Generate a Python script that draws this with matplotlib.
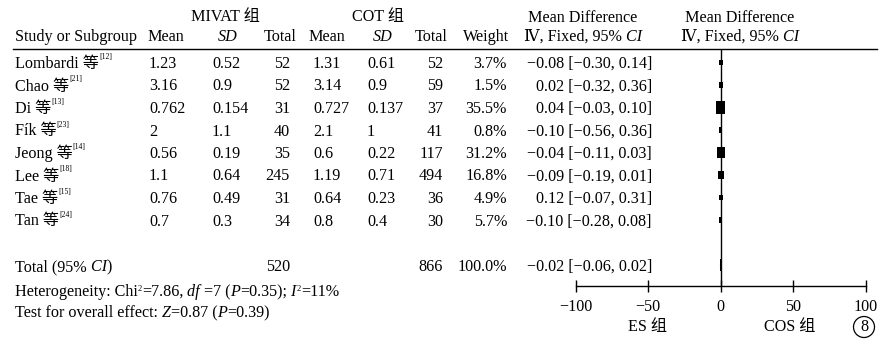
import numpy as np
import matplotlib
matplotlib.use("Agg")
import matplotlib.pyplot as plt
from matplotlib.patches import Ellipse

plt.rcParams['font.family'] = ['Liberation Serif', 'DejaVu Serif', 'Noto Sans CJK SC']
plt.rcParams['font.size'] = 11.6

# data
studies = ['Lombardi', 'Chao', 'Di', 'Fík', 'Jeong', 'Lee', 'Tae', 'Tan']
refs = ['12', '21', '13', '23', '14', '18', '15', '24']
mivat_mean = [1.23, 3.16, 0.762, 2, 0.56, 1.1, 0.76, 0.7]
mivat_sd = [0.52, 0.9, 0.154, 1.1, 0.19, 0.64, 0.49, 0.3]
mivat_n = [52, 52, 31, 40, 35, 245, 31, 34]
cot_mean = [1.31, 3.14, 0.727, 2.1, 0.6, 1.19, 0.64, 0.8]
cot_sd = [0.61, 0.9, 0.137, 1, 0.22, 0.71, 0.23, 0.4]
cot_n = [52, 59, 37, 41, 117, 494, 36, 30]
weight = [3.7, 1.5, 35.5, 0.8, 31.2, 16.8, 4.9, 5.7]
md = [-0.08, 0.02, 0.04, -0.10, -0.04, -0.09, 0.12, -0.10]
ci_lo = [-0.30, -0.32, -0.03, -0.56, -0.11, -0.19, -0.07, -0.28]
ci_hi = [0.14, 0.36, 0.10, 0.36, 0.03, 0.01, 0.31, 0.08]
total_mivat = 520
total_cot = 866
total_weight = 100.0
pooled_md, pooled_lo, pooled_hi = -0.02, -0.06, 0.02
xticks = [-100, -50, 0, 50, 100]

W, H = 892, 346
fig = plt.figure(figsize=(W / 100, H / 100), dpi=100)
lay = fig.add_axes([0, 0, 1, 1])
lay.set_xlim(0, W)
lay.set_ylim(H, 0)
lay.axis('off')
renderer = fig.canvas.get_renderer()


def row_y(r):
    return 62.5 + 22.5 * r


def put(pieces, x, y, ha='left'):
    # pieces: (text, kwargs) drawn one after another on the same baseline
    arts = []
    cx = x
    for s, kw in pieces:
        kw = dict(kw)
        rise = kw.pop('rise', 0)
        t = lay.text(cx, y - rise, s, ha='left', va='baseline', **kw)
        cx += t.get_window_extent(renderer).width
        arts.append(t)
    if ha != 'left':
        shift = (cx - x) if ha == 'right' else (cx - x) / 2
        for t in arts:
            t.set_x(t.get_position()[0] - shift)
    return arts


def fmt(v):
    return f"{v:.2f}".replace('-', '\u2212')


IT = {'fontstyle': 'italic'}
SUP = {'fontsize': 5.5, 'rise': 9}
SUP2 = {'fontsize': 6, 'rise': 5}

# headers
b1, b2 = 21, 41
lay.text(225, b1, 'MIVAT 组', ha='center', va='baseline')
lay.text(378, b1, 'COT 组', ha='center', va='baseline')
lay.text(583, b1 + 1, 'Mean Difference', ha='center', va='baseline')
lay.text(740, b1 + 1, 'Mean Difference', ha='center', va='baseline')
lay.text(15, b2, 'Study or Subgroup', va='baseline')
lay.text(147, b2, 'Mean', va='baseline')
lay.text(228, b2, 'SD', ha='center', va='baseline', **IT)
lay.text(297, b2, 'Total', ha='right', va='baseline')
lay.text(308, b2, 'Mean', va='baseline')
lay.text(383, b2, 'SD', ha='center', va='baseline', **IT)
lay.text(448, b2, 'Total', ha='right', va='baseline')
lay.text(509, b2, 'Weight', ha='right', va='baseline')
put([('Ⅳ, Fixed, 95%', {}), (' CI', IT)], 583, b2, ha='center')
put([('Ⅳ, Fixed, 95%', {}), (' CI', IT)], 740, b2, ha='center')
lay.axhline(49, xmin=13 / W, xmax=877 / W, color='black', lw=1.0)

# study rows
for i in range(len(studies)):
    yb = row_y(i) + 5.5
    put([(studies[i] + ' 等', {}), ('[' + refs[i] + ']', SUP)], 15, yb)
    lay.text(149, yb, f"{mivat_mean[i]:g}", va='baseline')
    lay.text(212, yb, f"{mivat_sd[i]:g}", va='baseline')
    lay.text(290, yb, str(mivat_n[i]), ha='right', va='baseline')
    lay.text(313, yb, f"{cot_mean[i]:g}", va='baseline')
    lay.text(367, yb, f"{cot_sd[i]:g}", va='baseline')
    lay.text(443, yb, str(cot_n[i]), ha='right', va='baseline')
    lay.text(507, yb, f"{weight[i]:.1f}%", ha='right', va='baseline')
    lay.text(652, yb, f"{fmt(md[i])} [{fmt(ci_lo[i])}, {fmt(ci_hi[i])}]",
             ha='right', va='baseline')

# total row
yb = row_y(9) + 6
put([('Total (95%', {}), (' CI', IT), (')', {})], 15, yb)
lay.text(290, yb, str(total_mivat), ha='right', va='baseline')
lay.text(443, yb, str(total_cot), ha='right', va='baseline')
lay.text(507, yb, f"{total_weight:.1f}%", ha='right', va='baseline')
lay.text(652, yb, f"{fmt(pooled_md)} [{fmt(pooled_lo)}, {fmt(pooled_hi)}]",
         ha='right', va='baseline')

put([('Heterogeneity: Chi', {}), ('2', SUP2), ('=7.86,', {}), (' df', IT),
     (' =7 (', {}), ('P', IT), ('=0.35);', {}), (' I', IT), ('2', SUP2),
     ('=11%', {})], 15, 296)
put([('Test for overall effect:', {}), (' Z', IT), ('=0.87 (', {}),
     ('P', IT), ('=0.39)', {})], 15, 317)

# forest panel
top_px, bot_px, left_px, right_px = 49, 286, 575.5, 866
fx = fig.add_axes([left_px / W, 1 - bot_px / H, (right_px - left_px) / W,
                   (bot_px - top_px) / H])
fx.set_xlim(-100, 100)
fx.set_ylim((bot_px - 62.5) / 22.5, (top_px - 62.5) / 22.5)
fx.patch.set_alpha(0)
for s in ['top', 'left', 'right']:
    fx.spines[s].set_visible(False)
fx.spines['bottom'].set_linewidth(1.0)
fx.set_yticks([])
fx.set_xticks(xticks)
fx.tick_params(axis='x', direction='inout', length=8, width=1.0, pad=5.4,
               labelsize=11.6)
fx.axvline(0, color='black', lw=1.0)

rows = np.arange(len(studies))
w = np.array(weight)
h_px = np.maximum(5.2, 2.05 * np.sqrt(w))
box = [(-0.72, -1), (0.72, -1), (0.72, 1), (-0.72, 1), (-0.72, -1)]
fx.hlines(rows, ci_lo, ci_hi, color='black', lw=1.0)
fx.scatter(md, rows, s=(h_px * 0.72) ** 2, marker=box, color='black',
           linewidths=0, zorder=3)
fx.fill([pooled_lo, pooled_md, pooled_hi, pooled_md], [9, 8.75, 9, 9.25],
        color='black')

lay.text(648, 331, 'ES 组', ha='center', va='baseline')
lay.text(790, 331, 'COS 组', ha='center', va='baseline')
lay.text(864, 331, '8', ha='center', va='baseline')
lay.add_patch(Ellipse((864, 327), 21, 21, fill=False, lw=0.9, color='black'))

fig.savefig('out.png', dpi=100)
